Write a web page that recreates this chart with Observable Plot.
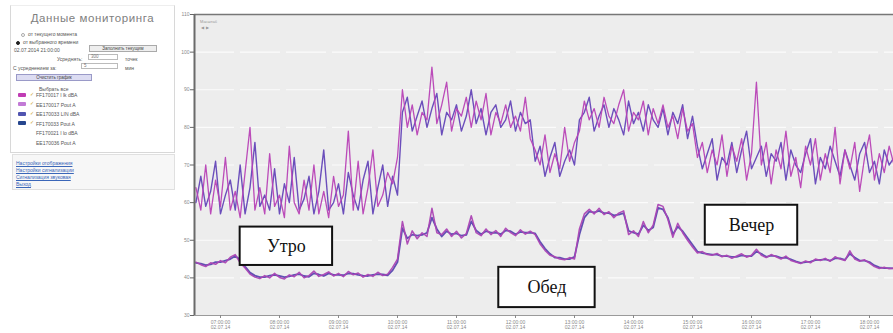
<!DOCTYPE html>
<html>
<head>
<meta charset="utf-8">
<script src="https://cdn.jsdelivr.net/npm/d3@7"></script>
<script src="https://cdn.jsdelivr.net/npm/@observablehq/plot@0.6"></script>
<style>
  body { margin: 0; background: #fff; font-family: "Liberation Sans", Arial, sans-serif; }
  #page { position: relative; width: 893px; height: 333px; overflow: hidden; background: #fff; }
  #panel { position: absolute; left: 10px; top: 5px; width: 165px; height: 148px; border: 1px solid #d8d8d8; border-top-color: #eee; box-sizing: border-box; color: #555; font-size: 5px; }
  #panel .t { position: absolute; white-space: nowrap; }
  #panel h1 { position: absolute; left: 0; width: 100%; top: 6px; margin: 0; font-size: 11.5px; font-weight: normal; color: #808080; text-align: center; letter-spacing: 0.6px; }
  .radio { display: inline-block; width: 4px; height: 4px; border-radius: 50%; border: 1px solid #aaa; vertical-align: middle; margin-right: 3px; box-sizing: border-box; }
  .radio.on { background: #222; border-color: #222; }
  .input { position: absolute; height: 6px; border: 1px solid #bbb; background: #fff; box-sizing: border-box; font-size: 4.5px; line-height: 4px; padding-left: 2px; color: #777; }
  .btn { position: absolute; height: 7px; border: 1px solid #aaa; background: #eee; box-sizing: border-box; font-size: 4.5px; line-height: 5px; text-align: center; color: #444; }
  .sw { position: absolute; width: 8px; height: 4px; border-radius: 1px; }
  .chk { position: absolute; width: 4px; height: 4px; color: #c9a030; font-size: 5px; line-height: 4px; }
  #links { position: absolute; left: 12px; top: 154px; width: 163px; height: 36px; border: 1px solid #e0e0e0; background: #f7f7f7; box-sizing: border-box; font-size: 5px; }
  #links a { position: absolute; left: 3px; color: #3a66b8; text-decoration: underline; white-space: nowrap; }
  #chart { position: absolute; left: 180px; top: 0; }
  #zoomctl { position: absolute; left: 200px; top: 19px; font-size: 4px; color: #999; line-height: 6px; }
</style>
</head>
<body>
<div id="page">
  <div id="panel"></div>
  <div id="links"></div>
  <div id="chart"></div>
  <div id="zoomctl">Масштаб<br>&nbsp;&#9664;&nbsp;&nbsp;&#9654;</div>
</div>
<script>
// Monitored channels shown in the side legend (the last two are switched off)
const channelNames = [
  "FF170017 I lk dBA",
  "EE170017 Pout A",
  "EE170033 LIN dBA",
  "FF170033 Pout A",
  "FF170021 I lo dBA",
  "EE170036 Pout A"
];
const channelColors = ["#c03cb4", "#c27ad6", "#5054b0", "#26468e", null, null];

// Sampling: 02.07.2014 from 06:35, one reading every 5 minutes
const startTime = new Date(2014, 6, 2, 6, 35);
const stepMinutes = 5;

// Noise level, upper channel pair (dBA)
const upperA = [
  64, 58, 70, 57, 66, 59, 72, 58, 63, 56, 68, 80, 58, 64, 57, 73, 59, 62, 56, 75,
  60, 57, 66, 58, 70, 57, 63, 56, 67, 59, 62, 79, 58, 71, 57, 64, 74, 59, 62, 68,
  65, 72, 90, 80, 86, 78, 84, 82, 96, 81, 86, 92, 79, 85, 83, 88, 80, 87, 82, 89,
  78, 84, 81, 86, 80, 83, 79, 88, 77, 74, 70, 78, 68, 73, 69, 80, 71, 76, 79, 87,
  82, 85, 80, 88, 83, 81, 86, 90, 79, 84, 82, 87, 78, 85, 81, 86, 80, 83, 77, 85,
  79, 81, 72, 76, 68, 74, 70, 78, 67, 75, 71, 77, 66, 73, 92, 70, 76, 65, 74, 69,
  79, 67, 72, 64, 75, 70, 77, 66, 73, 68, 80, 65, 74, 69, 76, 63, 72, 78, 66, 73,
  68, 75, 70
];
const upperB = [
  60, 67, 59, 63, 71, 57, 62, 66, 58, 70, 57, 64, 76, 59, 62, 58, 69, 57, 65, 60,
  72, 58, 61, 67, 57, 63, 74, 58, 60, 65, 57, 68, 62, 58, 66, 71, 57, 64, 70, 59,
  67, 62, 84, 88, 79, 83, 87, 80, 85, 89, 78, 84, 82, 86, 79, 83, 90, 81, 85, 78,
  84, 86, 80, 82, 87, 79, 84, 81, 82, 71, 75, 67, 72, 76, 67, 71, 74, 70, 82, 84,
  88, 79, 83, 86, 80, 85, 82, 78, 87, 81, 84, 79, 86, 82, 80, 85, 78, 84, 81, 86,
  77, 83, 75, 69, 73, 77, 66, 72, 70, 76, 68, 74, 79, 69, 72, 75, 67, 73, 71, 76,
  66, 74, 70, 68, 73, 77, 65, 72, 69, 75, 71, 67, 74, 70, 66, 73, 76, 68, 71, 65,
  74, 70, 72
];

// Noise level, lower channel pair (dBA)
const lowerA = [
  44.2, 43.5, 43.0, 44.0, 43.6, 44.6, 44.0, 45.5, 46.2, 44.0, 42.6, 41.0, 40.2, 39.8, 40.6, 40.0, 41.2, 40.1, 39.7, 40.8,
  40.3, 41.5, 40.0, 40.6, 41.8, 40.4, 40.9, 41.6, 40.5, 41.2, 40.3, 41.7, 40.8, 41.3, 40.2, 40.9, 40.4, 41.5, 40.6, 41.0,
  42.8, 45.0, 55.0, 49.0, 52.5, 50.4, 52.0, 51.0, 58.5, 52.0, 51.5, 53.0, 51.0, 52.4, 50.6, 51.8, 56.5, 52.0, 51.2, 53.0,
  51.5, 52.6, 51.0, 53.2, 52.0, 51.2, 52.8, 51.6, 52.4, 51.5, 49.0, 47.3, 46.0, 45.6, 45.0, 44.8, 45.4, 45.0, 53.0, 57.0,
  58.2, 57.0, 58.5, 56.8, 57.6, 56.0, 57.2, 57.8, 51.5, 52.5, 51.0, 55.0, 52.0, 54.0, 59.5, 59.0, 55.5, 50.8, 54.5, 52.0,
  50.0, 48.2, 46.6, 47.0, 46.2, 46.0, 46.5, 45.6, 46.0, 45.2, 45.8, 46.4, 45.5, 46.0, 47.6, 46.0, 45.4, 46.2, 45.6, 45.0,
  45.8, 44.6, 44.2, 43.8, 44.5, 44.0, 45.0, 44.6, 45.2, 44.4, 45.6, 45.0, 44.6, 47.2, 45.0, 44.4, 44.8, 43.9, 43.0, 42.5,
  42.8, 42.4, 42.6
];
const lowerB = [
  44.0, 43.8, 43.4, 43.6, 44.2, 44.2, 44.6, 45.0, 45.8, 44.8, 43.0, 41.4, 40.6, 40.2, 40.2, 40.6, 40.8, 40.5, 40.2, 40.4,
  40.8, 41.0, 40.5, 40.3, 41.2, 40.9, 40.5, 41.2, 40.8, 40.8, 40.7, 41.2, 41.1, 40.8, 40.6, 40.5, 40.8, 41.0, 40.9, 40.7,
  42.0, 44.2, 53.2, 50.5, 51.5, 51.2, 51.4, 52.0, 56.0, 53.0, 51.0, 52.4, 51.6, 51.8, 51.2, 51.4, 55.0, 52.6, 51.6, 52.4,
  52.0, 52.0, 51.6, 52.6, 52.4, 51.6, 52.2, 52.0, 52.0, 51.8, 49.6, 47.8, 46.4, 45.4, 45.4, 45.0, 45.0, 45.6, 51.5, 56.0,
  57.6, 57.4, 57.8, 57.2, 57.2, 56.6, 56.8, 57.2, 52.5, 52.0, 51.6, 54.0, 52.6, 53.4, 58.6, 58.2, 56.0, 51.6, 53.6, 52.4,
  50.6, 48.8, 47.0, 46.6, 46.4, 46.2, 46.2, 45.8, 45.8, 45.6, 45.6, 46.0, 45.8, 45.8, 47.0, 46.4, 45.6, 45.9, 45.8, 45.3,
  45.4, 44.9, 44.4, 44.0, 44.2, 44.3, 44.7, 44.8, 44.9, 44.6, 45.2, 45.2, 44.8, 46.4, 45.4, 44.6, 44.6, 44.2, 43.3, 42.8,
  42.6, 42.6, 42.5
];

// Axis ticks
const yTicks = [30, 40, 50, 60, 70, 80, 90, 100, 110];
const xTickHours = [7, 8, 9, 10, 11, 12, 13, 14, 15, 16, 17, 18];

// Period notes drawn on the chart
const noteLabels = ["Утро", "Обед", "Вечер"];
const noteFrom = [[7, 20], [11, 43], [15, 13]];
const noteTo = [[8, 54], [13, 21], [16, 47]];
const noteLow = [43.3, 32.1, 48.7];
const noteHigh = [53.5, 42.8, 59.3];

// ---- side panel ----
const panel = document.getElementById("panel");
function addText(parent, html, left, top, cls = "t") {
  const d = document.createElement("div");
  d.className = cls; d.innerHTML = html;
  d.style.left = left + "px"; d.style.top = top + "px";
  parent.appendChild(d);
  return d;
}
const h = document.createElement("h1");
h.textContent = "Данные мониторинга";
panel.appendChild(h);
addText(panel, '<span class="radio"></span>от текущего момента', 10, 25);
addText(panel, '<span class="radio on"></span>от выбранного времени', 5, 33);
addText(panel, "02.07.2014 21:00:00", 3, 41);
const b1 = addText(panel, "Заполнить текущим", 78, 39, "btn"); b1.style.width = "68px";
addText(panel, "Усреднять:", 46, 50);
const i1 = addText(panel, "300", 77, 48, "input"); i1.style.width = "30px";
addText(panel, "точек", 114, 50);
addText(panel, "С усреднением за:", 2, 59);
const i2 = addText(panel, "5", 70, 57, "input"); i2.style.width = "37px";
addText(panel, "мин", 114, 59);
const b2 = addText(panel, "Очистить график", 5, 68, "btn");
b2.style.width = "76px"; b2.style.background = "#dcdcf2"; b2.style.borderColor = "#9a9ac8";
addText(panel, "Выбрать все", 28, 80);
channelNames.forEach((name, k) => {
  const top = 86 + k * 9.5;
  if (channelColors[k]) {
    const s = document.createElement("div");
    s.className = "sw"; s.style.background = channelColors[k];
    s.style.left = "7px"; s.style.top = (top + 0.5) + "px";
    panel.appendChild(s);
    addText(panel, "&#10003;", 19, top - 0.5, "chk");
  }
  addText(panel, name, 25, top);
});
const links = document.getElementById("links");
["Настройки отображения", "Настройки сигнализации", "Сигнализация звуковая", "Выход"].forEach((s, k) => {
  const a = document.createElement("a");
  a.textContent = s; a.style.top = (5 + k * 7) + "px";
  links.appendChild(a);
});

// ---- chart ----
const at = i => d3.timeMinute.offset(startTime, i * stepMinutes);
const series = [
  {values: upperB, color: "#6446b8", width: 1.4},
  {values: lowerB, color: "#5a48b0", width: 1.8},
  {values: upperA, color: "#b842b6", width: 1.3},
  {values: lowerA, color: "#ac44b4", width: 1.5}
];
const hm = ([hh, mm]) => new Date(2014, 6, 2, hh, mm);
const notes = noteLabels.map((label, k) => ({
  label,
  x1: hm(noteFrom[k]), x2: hm(noteTo[k]),
  y1: noteLow[k], y2: noteHigh[k],
  xm: new Date((+hm(noteFrom[k]) + +hm(noteTo[k])) / 2),
  ym: (noteLow[k] + noteHigh[k]) / 2
}));
const xTicks = xTickHours.map(hh => new Date(2014, 6, 2, hh, 0));
const fmtTime = d3.timeFormat("%H:%M:%S"), fmtDate = d3.timeFormat("%d.%m.%y");
const x0 = new Date(2014, 6, 2, 6, 33, 34), x1 = new Date(2014, 6, 2, 18, 24, 24);

const chart = Plot.plot({
  width: 713,
  height: 333,
  marginLeft: 14,
  marginRight: 0,
  marginTop: 14,
  marginBottom: 18,
  style: {background: "transparent", fontFamily: "Liberation Sans, Arial, sans-serif", color: "#8a8a8a"},
  x: {type: "time", domain: [x0, x1]},
  y: {domain: [30, 110]},
  marks: [
    Plot.frame({fill: "#ededed", stroke: null}),
    Plot.ruleY(yTicks.slice(1, -1), {stroke: "#fbfbfb", strokeWidth: 1.2, strokeDasharray: "40,6"}),
    ...series.map(s => Plot.line(s.values, {
      x: (d, i) => at(i), y: d => d,
      stroke: s.color, strokeWidth: s.width, strokeOpacity: 0.95
    })),
    Plot.ruleY([110], {stroke: "#777", strokeWidth: 1.5}),
    Plot.ruleY([30], {stroke: "#9a9a9a", strokeWidth: 1}),
    Plot.ruleX([x0], {stroke: "#6a6a6a", strokeWidth: 2}),
    Plot.axisY({ticks: yTicks, tickSize: 4, tickPadding: 1, fontSize: 5, label: null, stroke: "#666"}),
    Plot.axisX({ticks: xTicks, tickSize: 3, tickPadding: 2, fontSize: 5, label: null,
      tickFormat: d => fmtTime(d) + "\n" + fmtDate(d), stroke: "#888"}),
    Plot.rect(notes, {x1: "x1", x2: "x2", y1: "y1", y2: "y2", fill: "#fff", stroke: "#111", strokeWidth: 2}),
    Plot.text(notes, {x: "xm", y: "ym", text: "label", fontSize: 18, fill: "#111",
      fontFamily: "Liberation Serif, Times New Roman, serif"})
  ]
});
document.getElementById("chart").appendChild(chart);
</script>
</body>
</html>
